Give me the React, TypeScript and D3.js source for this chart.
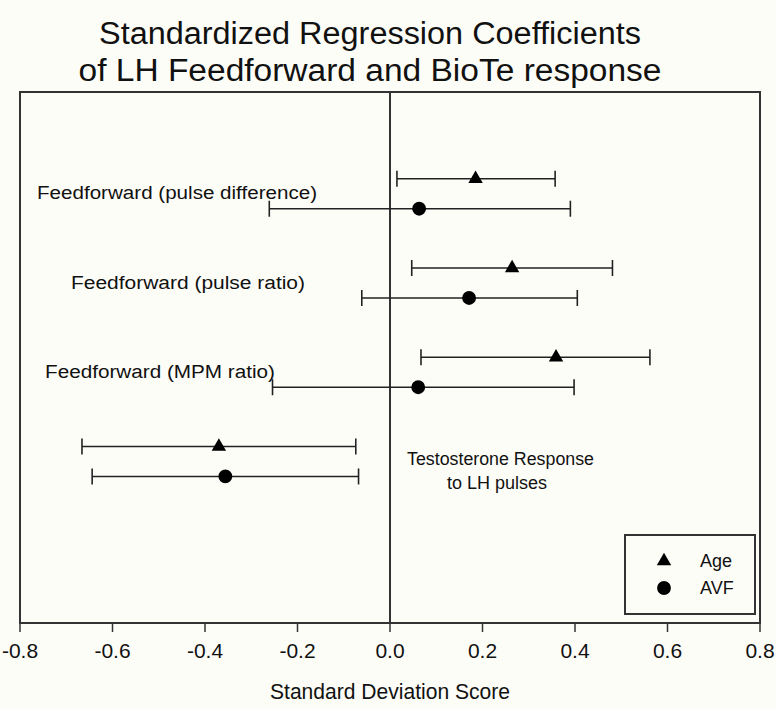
import * as d3 from "d3";

// Rows, top to bottom. Each group has an Age (triangle) and AVF (circle) estimate.
const groups = [
  "Feedforward (pulse difference)",
  "Feedforward (pulse ratio)",
  "Feedforward (MPM ratio)",
  "Testosterone Response to LH pulses",
];
const ageValue = [0.185, 0.264, 0.359, -0.37];
const ageLow = [0.015, 0.047, 0.067, -0.666];
const ageHigh = [0.357, 0.481, 0.562, -0.074];
const avfValue = [0.063, 0.171, 0.061, -0.356];
const avfLow = [-0.261, -0.061, -0.254, -0.644];
const avfHigh = [0.39, 0.405, 0.398, -0.068];
const xTicks = [-0.8, -0.6, -0.4, -0.2, 0.0, 0.2, 0.4, 0.6, 0.8];

const W = 776;
const H = 709;
const plot = { left: 20, right: 760, top: 92, bottom: 623 };
const font = "'Liberation Sans', Arial, sans-serif";

const x = d3.scaleLinear().domain([-0.8, 0.8]).range([plot.left, plot.right]);
// group slots: group i is centered at i + 1.14, Age above, AVF below
const y = d3.scaleLinear().domain([0, 5.95]).range([plot.top, plot.bottom]);
const rowY = (i: number, series: "age" | "avf") =>
  y(i + 1.14 + (series === "age" ? -0.168 : 0.168));

const tri = d3.symbol().type(d3.symbolTriangle).size(90)();
const circ = d3.symbol().type(d3.symbolCircle).size(150)();
const fmt = (t: number) => d3.format(".1f")(t).replace("\u2212", "-");

function ErrorBar({ cy, lo, hi, v, shape }: { cy: number; lo: number; hi: number; v: number; shape: string }) {
  const cap = 8;
  return (
    <g stroke="#222" strokeWidth={1.6}>
      <line x1={x(lo)} x2={x(hi)} y1={cy} y2={cy} />
      <line x1={x(lo)} x2={x(lo)} y1={cy - cap} y2={cy + cap} />
      <line x1={x(hi)} x2={x(hi)} y1={cy - cap} y2={cy + cap} />
      <path d={shape ?? ""} transform={`translate(${x(v)},${cy})`} fill="#000" stroke="none" />
    </g>
  );
}

export default function App() {
  return (
    <svg
      width={W}
      height={H}
      style={{ position: "absolute", left: 0, top: 0, background: "#fdfdf8", fontFamily: font }}
    >
      <text x={370} y={44} textAnchor="middle" fontSize={31} fill="#111" textLength={542} lengthAdjust="spacingAndGlyphs">
        Standardized Regression Coefficients
      </text>
      <text x={370} y={81} textAnchor="middle" fontSize={31} fill="#111" textLength={583} lengthAdjust="spacingAndGlyphs">
        of LH Feedforward and BioTe response
      </text>

      <rect
        x={plot.left}
        y={plot.top}
        width={plot.right - plot.left}
        height={plot.bottom - plot.top}
        fill="none"
        stroke="#333"
        strokeWidth={2}
      />
      <line x1={x(0)} x2={x(0)} y1={plot.top} y2={plot.bottom} stroke="#333" strokeWidth={2} />

      {xTicks.map((t) => (
        <g key={t}>
          <line x1={x(t)} x2={x(t)} y1={plot.bottom} y2={plot.bottom + 9} stroke="#333" strokeWidth={1.5} />
          <text x={x(t)} y={plot.bottom + 35} textAnchor="middle" fontSize={21} fill="#111">
            {fmt(t)}
          </text>
        </g>
      ))}
      <text x={390} y={699} textAnchor="middle" fontSize={22} fill="#111" textLength={240} lengthAdjust="spacingAndGlyphs">
        Standard Deviation Score
      </text>

      {groups.map((g, i) => (
        <g key={g}>
          <ErrorBar cy={rowY(i, "age")} lo={ageLow[i]} hi={ageHigh[i]} v={ageValue[i]} shape={tri!} />
          <ErrorBar cy={rowY(i, "avf")} lo={avfLow[i]} hi={avfHigh[i]} v={avfValue[i]} shape={circ!} />
        </g>
      ))}

      <g fontSize={18} fill="#111">
        <text x={37} y={199} textLength={280} lengthAdjust="spacingAndGlyphs">{groups[0]}</text>
        <text x={71} y={289} textLength={234} lengthAdjust="spacingAndGlyphs">{groups[1]}</text>
        <text x={45} y={378} textLength={230} lengthAdjust="spacingAndGlyphs">{groups[2]}</text>
        <text x={407} y={465} textLength={187} lengthAdjust="spacingAndGlyphs">Testosterone  Response</text>
        <text x={447} y={489}>to LH pulses</text>
      </g>

      <g>
        <rect x={625} y={535} width={130} height={79} fill="none" stroke="#333" strokeWidth={2} />
        <path d={tri!} transform="translate(664,561)" fill="#000" />
        <path d={circ!} transform="translate(664,588)" fill="#000" />
        <text x={700} y={567} fontSize={18} fill="#111">Age</text>
        <text x={700} y={594} fontSize={18} fill="#111">AVF</text>
      </g>
    </svg>
  );
}
